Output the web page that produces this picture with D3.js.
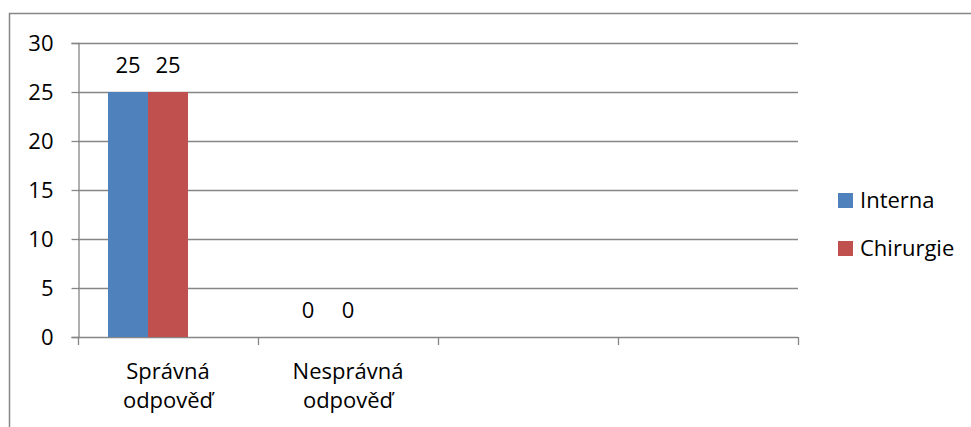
<!DOCTYPE html>
<html>
<head>
<meta charset="utf-8">
<script src="https://cdn.jsdelivr.net/npm/d3@7"></script>
<style>
  html, body { margin: 0; padding: 0; background: #fff; }
  svg { display: block; font-family: "Open Sans", "Noto Sans", sans-serif; }
</style>
</head>
<body>
<svg id="chart" width="971" height="427"></svg>
<script>
// Category labels (two empty slots follow the two answers)
const categories = [["Správná", "odpověď"], ["Nesprávná", "odpověď"], [""], [" "]];
const categoryKeys = ["Správná odpověď", "Nesprávná odpověď", "c3", "c4"];
const seriesNames = ["Interna", "Chirurgie"];
const internaValues = [25, 0, null, null];
const chirurgieValues = [25, 0, null, null];
const yTicks = [0, 5, 10, 15, 20, 25, 30];
const colors = ["#4f81bd", "#c0504d"];

const svg = d3.select("#chart");
const margin = { left: 78, right: 798, top: 43, bottom: 337 };
const fontSize = 22;
const gridColor = "#868686";

// Outer frame (runs past the right and bottom edges)
svg.append("rect")
  .attr("x", 9.5).attr("y", 13.5)
  .attr("width", 980).attr("height", 440)
  .attr("fill", "none").attr("stroke", gridColor).attr("stroke-width", 1.5);

const x = d3.scaleBand().domain(categoryKeys).range([margin.left, margin.right]).paddingInner(0).paddingOuter(0);
const y = d3.scaleLinear().domain([0, 30]).range([margin.bottom, margin.top]);

// Horizontal gridlines
svg.append("g").selectAll("line").data(yTicks.filter(t => t > 0)).join("line")
  .attr("x1", margin.left).attr("x2", margin.right)
  .attr("y1", d => Math.round(y(d)) + 0.5).attr("y2", d => Math.round(y(d)) + 0.5)
  .attr("stroke", gridColor).attr("stroke-width", 1.3);

// Y axis
const yAxis = svg.append("g")
  .attr("transform", `translate(${margin.left + 0.5},0)`)
  .call(d3.axisLeft(y).tickValues(yTicks).tickSize(7).tickPadding(18));
yAxis.select(".domain").attr("stroke", gridColor).attr("stroke-width", 1.3);
yAxis.selectAll(".tick line").attr("stroke", gridColor).attr("stroke-width", 1.3);
yAxis.selectAll(".tick text").attr("font-size", fontSize).attr("fill", "#000")
  .attr("font-family", "'Open Sans', sans-serif");

// X axis with ticks on category boundaries
const boundaries = categoryKeys.map(k => x(k)).concat([margin.right]);
const xAxisG = svg.append("g");
xAxisG.append("line")
  .attr("x1", margin.left).attr("x2", margin.right)
  .attr("y1", margin.bottom + 0.5).attr("y2", margin.bottom + 0.5)
  .attr("stroke", gridColor).attr("stroke-width", 1.3);
xAxisG.selectAll("line.tk").data(boundaries).join("line").attr("class", "tk")
  .attr("x1", d => Math.round(d) + 0.5).attr("x2", d => Math.round(d) + 0.5)
  .attr("y1", margin.bottom).attr("y2", margin.bottom + 8)
  .attr("stroke", gridColor).attr("stroke-width", 1.3);

// Category labels
const catLabels = svg.append("g").selectAll("text").data(categoryKeys).join("text")
  .attr("x", d => x(d) + x.bandwidth() / 2)
  .attr("y", 379)
  .attr("text-anchor", "middle")
  .attr("font-size", fontSize).attr("fill", "#000");
catLabels.each(function(d, i) {
  const t = d3.select(this);
  categories[i].forEach((line, j) => {
    t.append("tspan").attr("x", x(d) + x.bandwidth() / 2).attr("dy", j === 0 ? 0 : 29).text(line);
  });
});

// Bars: three series slots per band (third slot empty), 150% gap
const slots = 3;
const gapRatio = 1.5;
const barW = x.bandwidth() / (slots + gapRatio);
const series = [internaValues, chirurgieValues];
series.forEach((vals, si) => {
  const data = categoryKeys.map((k, i) => ({ k, v: vals[i] })).filter(d => d.v !== null);
  const bx = d => x(d.k) + gapRatio * barW / 2 + si * barW;
  svg.append("g").selectAll("rect").data(data).join("rect")
    .attr("x", bx)
    .attr("y", d => y(d.v))
    .attr("width", barW)
    .attr("height", d => y(0) - y(d.v))
    .attr("fill", colors[si]);
  svg.append("g").selectAll("text").data(data).join("text")
    .attr("x", d => bx(d) + barW / 2)
    .attr("y", d => y(d.v) - 19)
    .attr("text-anchor", "middle")
    .attr("font-size", fontSize).attr("fill", "#000")
    .text(d => d.v);
});

// Legend
const legend = svg.append("g").selectAll("g").data(seriesNames).join("g")
  .attr("transform", (d, i) => `translate(838,${193 + i * 48})`);
legend.append("rect").attr("width", 15).attr("height", 15).attr("fill", (d, i) => colors[i]);
legend.append("text").attr("x", 22).attr("y", 14.5)
  .attr("font-size", fontSize).attr("fill", "#000").text(d => d);
</script>
</body>
</html>
